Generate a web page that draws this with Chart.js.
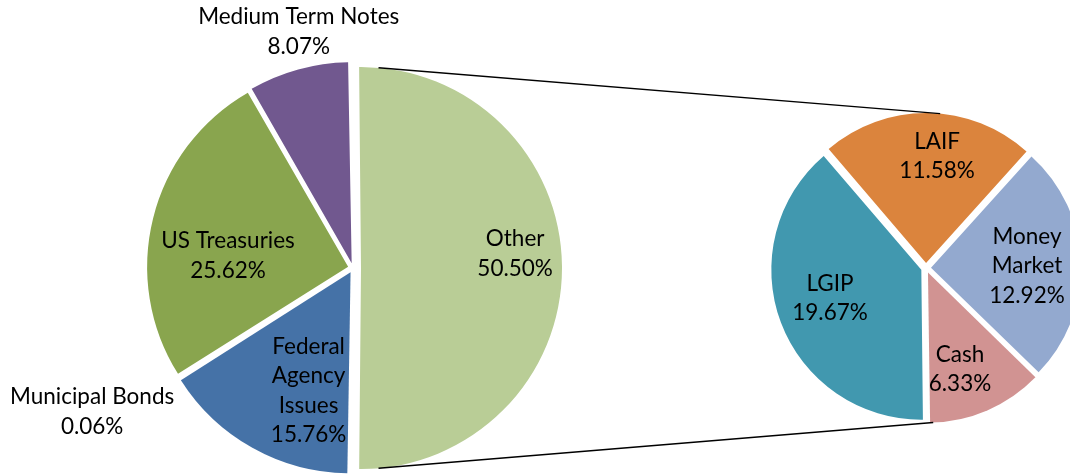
<!DOCTYPE html>
<html>
<head>
<meta charset="utf-8">
<script src="https://cdn.jsdelivr.net/npm/chart.js@4.4.1/dist/chart.umd.min.js"></script>
<style>
  html, body { margin: 0; padding: 0; background: #fff; }
  #wrap { position: relative; width: 1070px; height: 474px; overflow: hidden; }
  .layer { position: absolute; left: 0; top: 0; width: 1070px; height: 474px; }
</style>
</head>
<body>
<div id="wrap">
  <div class="layer"><canvas id="mainPie"></canvas></div>
  <div class="layer"><canvas id="subPie"></canvas></div>
</div>
<script>
// main pie: portfolio share by holding type (percent)
const mainLabels = ['Other', 'Federal Agency Issues', 'Municipal Bonds', 'US Treasuries', 'Medium Term Notes'];
const mainValues = [50.50, 15.76, 0.06, 25.62, 8.07];
// how each main label is broken into lines on the chart
const mainLines = [['Other'], ['Federal', 'Agency', 'Issues'], ['Municipal Bonds'], ['US Treasuries'], ['Medium Term Notes']];

// secondary pie: what "Other" is made of (percent of total)
const subLabels = ['LAIF', 'Money Market', 'Cash', 'LGIP'];
const subValues = [11.58, 12.92, 6.33, 19.67];
const subLines = [['LAIF'], ['Money', 'Market'], ['Cash'], ['LGIP']];

// colours (Excel 2007 palette)
const mainColors = ['#B9CD96', '#4572A7', '#AA4643', '#89A54E', '#71588F'];
const subColors = ['#DB843D', '#93A9CF', '#D19392', '#4198AF'];

// label placement: [fraction of radius, degrees clockwise from 12 o'clock]
const mainLabelPos = [[0.77, 84.8], [0.625, 199.5], [1.457, 241.2], [0.6, 275.2], [1.18, 347.1]];
const subLabelPos = [[0.717, 5.9], [0.64, 89], [0.68, 161.7], [0.637, 252.8]];

// explosion of each slice in pixels
const mainExplode = [8, 5, 5, 5, 5];
const subExplode = [5, 5, 5, 5];

const LABEL_FONT = '22.5px Lato';
const LINE_H = 29.5;

// chart.js moves an arc by offset/4 and also grows its radius; undo the growth
function shiftOf(arc) { return (arc.options.offset || 0) / 4; }
function growthOf(arc) { return shiftOf(arc) * (1 - Math.sin(Math.min(Math.PI, arc.circumference))); }

function arcCenter(arc) {
    const mid = (arc.startAngle + arc.endAngle) / 2;
    return { x: arc.x + Math.cos(mid) * shiftOf(arc), y: arc.y + Math.sin(mid) * shiftOf(arc) };
}
function drawnRadius(arc) { return arc.outerRadius + growthOf(arc); }

function polar(c, r, deg) {
    const a = (deg - 90) * Math.PI / 180;
    return { x: c.x + r * Math.cos(a), y: c.y + r * Math.sin(a) };
}

const keepRadius = {
    id: 'keepRadius',
    afterDatasetsUpdate(chart) {
        chart.getDatasetMeta(0).data.forEach(function (arc) {
            arc.outerRadius -= growthOf(arc);
        });
    }
};

// draws "name / value%" labels for each slice
function sliceLabels(lines, places) {
    return {
        id: 'sliceLabels',
        afterDatasetsDraw(chart) {
            const ctx = chart.ctx;
            const values = chart.data.datasets[0].data;
            ctx.save();
            ctx.font = LABEL_FONT;
            ctx.fillStyle = '#000';
            ctx.textAlign = 'center';
            ctx.textBaseline = 'middle';
            chart.getDatasetMeta(0).data.forEach(function (arc, i) {
                const p = polar(arcCenter(arc), places[i][0] * drawnRadius(arc), places[i][1]);
                const text = lines[i].concat(values[i].toFixed(2) + '%');
                text.forEach(function (t, j) {
                    ctx.fillText(t, p.x, p.y + (j - (text.length - 1) / 2) * LINE_H);
                });
            });
            ctx.restore();
        }
    };
}

function pieOptions(rotation, radius, padding) {
    return {
        responsive: true,
        maintainAspectRatio: false,
        animation: false,
        events: [],
        rotation: rotation,
        radius: radius,
        layout: { padding: padding },
        plugins: { legend: { display: false }, tooltip: { enabled: false } }
    };
}

const mainChart = new Chart(document.getElementById('mainPie'), {
    type: 'pie',
    data: {
        labels: mainLabels,
        datasets: [{
            data: mainValues,
            backgroundColor: mainColors,
            borderWidth: 0,
            offset: mainExplode.map(function (d) { return d * 4; })
        }]
    },
    // "Other" is centred on 3 o'clock, as Excel does for pie-of-pie
    options: pieOptions(-0.9, 201, { left: 0, right: 364, top: 62, bottom: 0 }),
    plugins: [keepRadius, sliceLabels(mainLines, mainLabelPos)]
});

// lines joining the "Other" slice to the secondary pie
const connectors = {
    id: 'connectors',
    afterDatasetsDraw(chart) {
        const other = mainChart.getDatasetMeta(0).data[0];
        const sub = chart.getDatasetMeta(0).data;
        const oc = arcCenter(other), orad = drawnRadius(other);
        const pairs = [
            [polar(oc, orad, 5), polar(arcCenter(sub[0]), drawnRadius(sub[0]), 5.4)],
            [polar(oc, orad, 175), polar(arcCenter(sub[2]), drawnRadius(sub[2]), 178)]
        ];
        const ctx = chart.ctx;
        ctx.save();
        ctx.strokeStyle = '#000';
        ctx.lineWidth = 1.3;
        pairs.forEach(function (p) {
            ctx.beginPath();
            ctx.moveTo(p[0].x, p[0].y);
            ctx.lineTo(p[1].x, p[1].y);
            ctx.stroke();
        });
        ctx.restore();
    }
};

const subChart = new Chart(document.getElementById('subPie'), {
    type: 'pie',
    data: {
        labels: subLabels,
        datasets: [{
            data: subValues,
            backgroundColor: subColors,
            borderWidth: 0,
            offset: subExplode.map(function (d) { return d * 4; })
        }]
    },
    options: pieOptions(-40.5, 150, { left: 782, right: 0, top: 62, bottom: 0 }),
    plugins: [keepRadius, sliceLabels(subLines, subLabelPos), connectors]
});
</script>
</body>
</html>
